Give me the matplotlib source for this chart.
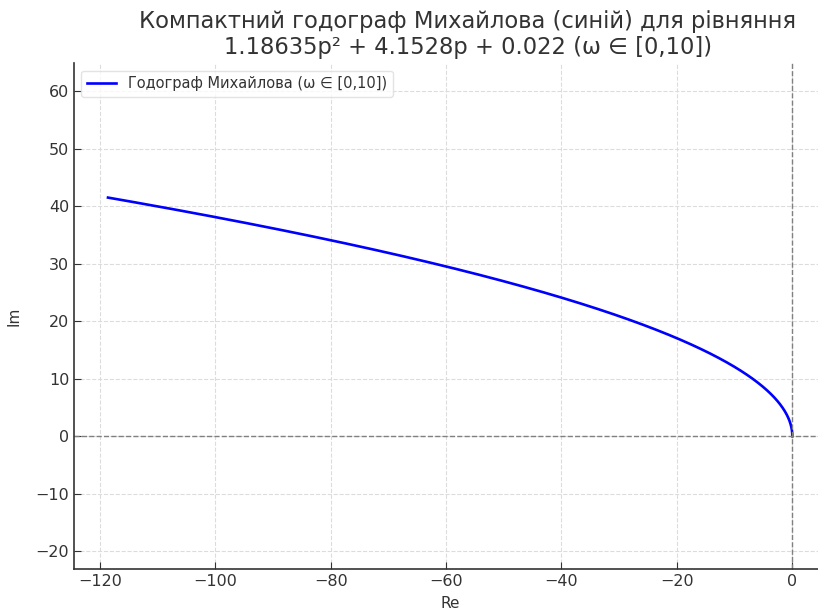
import numpy as np
import matplotlib
matplotlib.use("Agg")
import matplotlib.pyplot as plt

# characteristic polynomial D(p) = a2*p^2 + a1*p + a0
coeffs = [1.18635, 4.1528, 0.022]
omega_range = [0, 10]

omega = np.linspace(omega_range[0], omega_range[1], 1000)
D = np.polyval(coeffs, 1j * omega)
re_part = D.real
im_part = D.imag

plt.rcParams["font.family"] = ["DejaVu Sans"]
text_color = "#333333"

fig = plt.figure(figsize=(8.18, 6.16), dpi=100)
ax = fig.add_axes([0.0905, 0.0763, 0.92, 0.821])

ax.plot(re_part, im_part, color="blue", lw=1.9,
        label="Годограф Михайлова (ω ∈ [0,10])")
ax.axhline(0, color="gray", lw=1, ls="--")
ax.axvline(0, color="gray", lw=1, ls="--")

ax.set_xlim(-124.5, 5.96)
ax.set_ylim(-23.1, 64.9)
ax.set_xticks(np.arange(-120, 1, 20))
ax.set_yticks(np.arange(-20, 61, 10))

ax.set_title("Компактний годограф Михайлова (синій) для рівняння\n"
             "1.18635p² + 4.1528p + 0.022 (ω ∈ [0,10])",
             fontsize=16.3, color=text_color, pad=7, linespacing=1.15,
             x=0.523)
ax.set_xlabel("Re", fontsize=11, color=text_color, labelpad=5)
ax.set_ylabel("Im", fontsize=11, color=text_color, labelpad=10)

ax.grid(True, ls="--", color="#dcdcdc", lw=0.8)
for side in ["top", "right"]:
    ax.spines[side].set_visible(False)
for side in ["left", "bottom"]:
    ax.spines[side].set_color(text_color)
    ax.spines[side].set_linewidth(1.2)
ax.tick_params(direction="in", length=5, labelsize=11.5, colors=text_color,
               labelcolor=text_color)

leg = ax.legend(loc="upper left", fontsize=10.5, labelcolor=text_color,
                framealpha=0.8, edgecolor="#dddddd")

fig.savefig("out.png", dpi=100)
plt.close(fig)
